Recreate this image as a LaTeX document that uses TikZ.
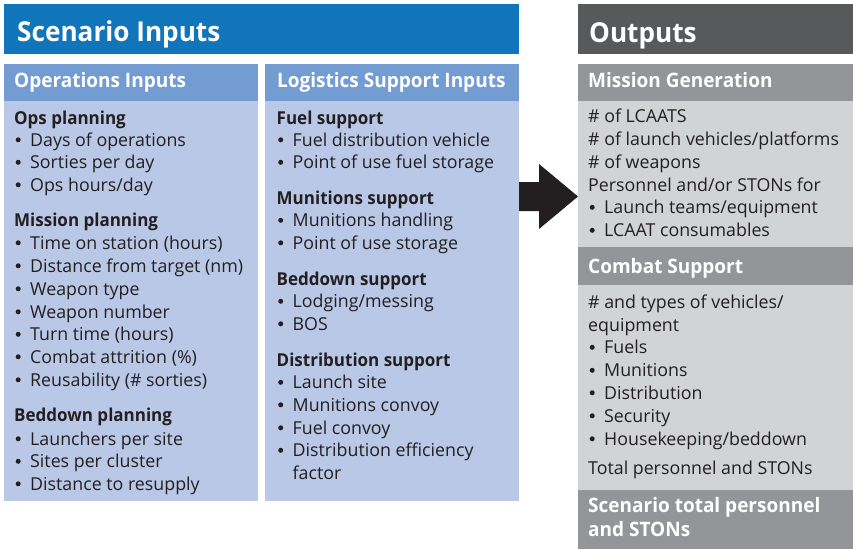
\documentclass[tikz,border=0pt]{standalone}
\usepackage{fontspec}
\setmainfont{Open Sans}[BoldFeatures={FakeStretch=0.955}]
\definecolor{inblue}{HTML}{1175BC}
\definecolor{insub}{HTML}{729CD2}
\definecolor{inbody}{HTML}{B9C8E6}
\definecolor{outdark}{HTML}{58595B}
\definecolor{outsub}{HTML}{939598}
\definecolor{outbody}{HTML}{D1D3D4}
\definecolor{ink}{HTML}{231F20}
\begin{document}
\begin{tikzpicture}[x=1pt,y=-1pt,
  ttl/.style={anchor=base west,inner sep=0,text=white,font=\bfseries\fontsize{27.4}{30}\selectfont},
  sub/.style={anchor=base west,inner sep=0,text=white,text height=14pt,text depth=4pt,
    font=\bfseries\fontsize{19.9}{24}\selectfont},
  hd/.style={anchor=base west,inner sep=0,text=ink,text height=12.5pt,text depth=3.5pt,
    font=\bfseries\fontsize{17.8}{22.75}\selectfont},
  ln/.style={anchor=base west,inner sep=0,text=ink,text height=12.5pt,text depth=3.5pt,
    font=\fontsize{17.8}{22.75}\selectfont},
  % bulleted line: text indented, round bullet drawn in front of it
  it/.style={ln,execute at begin node={\hspace*{16pt}},
    append after command={\pgfextra{\fill[ink]
      ([shift={(4.2pt,6.2pt)}]\tikzlastnode.base west) circle (2.5pt);}}},
  % continuation line of a bulleted item
  ct/.style={ln,execute at begin node={\hspace*{16pt}}}]
\useasboundingbox (0,0) rectangle (853,549);

% input panels
\fill[inblue] (4,4) rectangle (519,54);
\fill[insub] (4,64) rectangle (258,101);
\fill[inbody] (4,101) rectangle (258,501);
\fill[insub] (265,64) rectangle (519,101);
\fill[inbody] (265,101) rectangle (519,501);

% output panels
\fill[outdark] (578,4) rectangle (853,54);
\fill[outsub] (578,64) rectangle (853,101);
\fill[outbody] (578,101) rectangle (853,247);
\fill[outsub] (578,247) rectangle (853,285);
\fill[outbody] (578,285) rectangle (853,490);
\fill[outsub] (578,490) rectangle (853,549);

% block arrow from inputs to outputs
\fill[ink] (519,182) -- (539,182) -- (539,164) -- (578,196.5) -- (539,229)
  -- (539,211) -- (519,211) -- cycle;

% headings
\node[ttl] (tin) at (17,41) {Scenario Inputs};
\node[ttl] (tout) at (589,42) {Outputs};
\node[sub] (sops) at (14,87) {Operations Inputs};
\node[sub] (slog) at (277,87) {Logistics Support Inputs};
\node[sub] (smg) at (588,87) {Mission Generation};
\node[sub] (scs) at (588,273) {Combat Support};
\node[sub] (stot1) at (588,512) {Scenario total personnel};
\node[sub] (stot2) at (588,536) {and STONs};

% operations inputs
\foreach \s/\y/\t [count=\i] in {
  hd/124/{Ops planning},
  it/146/{Days of operations},
  it/168.5/{Sorties per day},
  it/191/{Ops hours/day},
  hd/226.5/{Mission planning},
  it/249/{Time on station (hours)},
  it/272/{Distance from target (nm)},
  it/295/{Weapon type},
  it/318/{Weapon number},
  it/340.5/{Turn time (hours)},
  it/363/{Combat attrition (\%)},
  it/386/{Reusability (\# sorties)},
  hd/421.5/{Beddown planning},
  it/445/{Launchers per site},
  it/467.5/{Sites per cluster},
  it/490/{Distance to resupply}}
  \node[\s] (ops\i) at (14,\y) {\t};

% logistics support inputs
\foreach \s/\y/\t [count=\i] in {
  hd/124/{Fuel support},
  it/146/{Fuel distribution vehicle},
  it/168.5/{Point of use fuel storage},
  hd/204/{Munitions support},
  it/226.5/{Munitions handling},
  it/249/{Point of use storage},
  hd/285/{Beddown support},
  it/307.5/{Lodging/messing},
  it/330/{BOS},
  hd/366/{Distribution support},
  it/388.5/{Launch site},
  it/411/{Munitions convoy},
  it/434/{Fuel convoy},
  it/456.5/{Distribution efficiency},
  ct/479.5/{factor}}
  \node[\s] (log\i) at (276.5,\y) {\t};

% mission generation outputs
\foreach \s/\y/\t [count=\i] in {
  ln/122.5/{\# of LCAATS},
  ln/145/{\# of launch vehicles/platforms},
  ln/168/{\# of weapons},
  ln/191/{Personnel and/or STONs for},
  it/213.5/{Launch teams/equipment},
  it/236.5/{LCAAT consumables}}
  \node[\s] (mg\i) at (588,\y) {\t};

% combat support outputs
\foreach \s/\y/\t [count=\i] in {
  ln/308/{\# and types of vehicles/},
  ln/331/{equipment},
  it/353.5/{Fuels},
  it/376.5/{Munitions},
  it/399/{Distribution},
  it/422/{Security},
  it/445/{Housekeeping/beddown},
  ln/474/{Total personnel and STONs}}
  \node[\s] (cs\i) at (588,\y) {\t};
\end{tikzpicture}
\end{document}
